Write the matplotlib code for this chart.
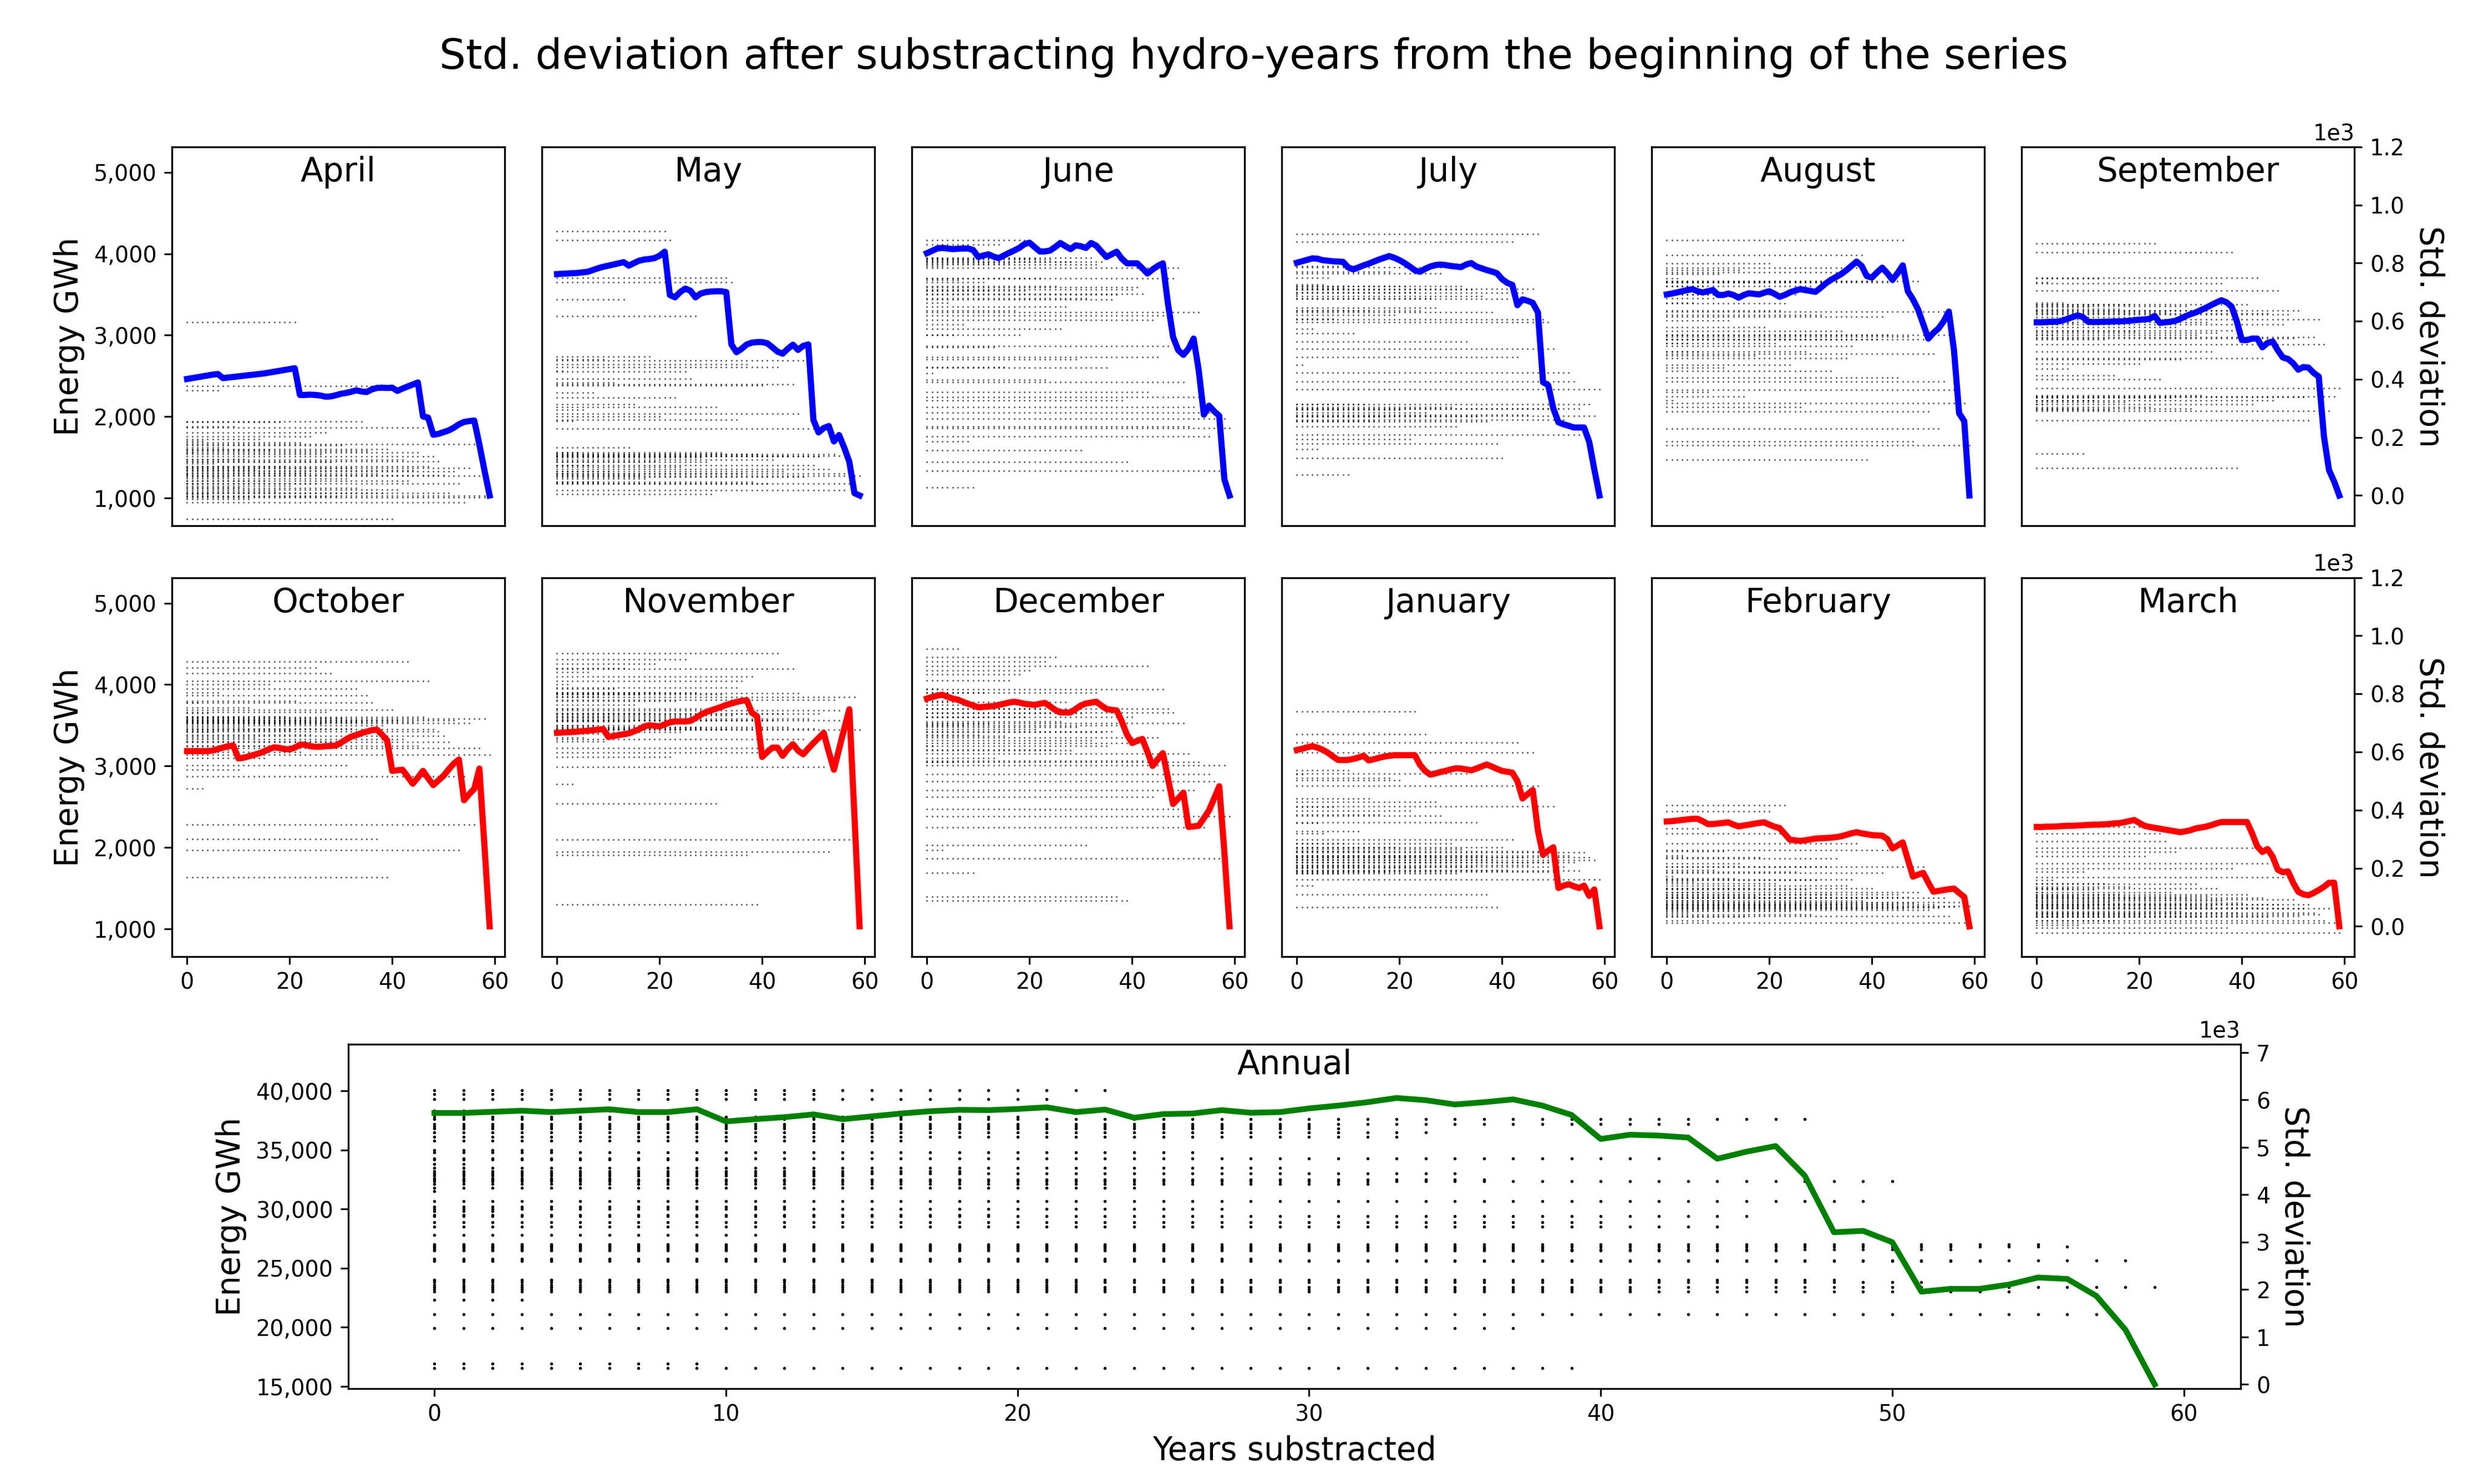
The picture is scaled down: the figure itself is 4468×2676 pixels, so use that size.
import numpy as np
import matplotlib
matplotlib.use('Agg')
import matplotlib.pyplot as plt
from matplotlib.ticker import StrMethodFormatter

# years substracted from the start of the series (x axis)
years = list(range(60))

# monthly energy per hydro-year (GWh), in series order
april_vals = [1290, 1560, 1180, 1700, 1050, 1420, 2323, 1620, 1260, 1880, 1130, 1480, 990, 1350, 1720,
              1210, 1590, 1080, 1930, 1390, 1150, 3157, 1680, 1310, 1753, 1176, 1540, 1801, 1440, 1020,
              1650, 1240, 1370, 1120, 1940, 1580, 2375, 1300, 1060, 1603, 742, 1100, 1470, 1210, 1340,
              1560, 1864, 1390, 1510, 1447, 1280, 1060, 1326, 1180, 943, 1370, 1660, 1270, 1030, 1010]
may_vals = [1480, 2560, 1300, 1950, 1560, 2080, 1400, 2296, 1200, 2700, 1330, 2420, 1520, 3438, 1620,
            2150, 1280, 1239, 2734, 1450, 2000, 4273, 4164, 2234, 1380, 2550, 2468, 3232, 1500, 1443,
            1051, 2115, 1560, 3701, 3648, 1959, 1300, 2640, 1200, 1540, 2380, 1176, 1470, 2609, 1330,
            1520, 2396, 2037, 1260, 2687, 1400, 1510, 1849, 1355, 1540, 1520, 1098, 1300, 1180, 1270]
june_vals = [3900, 2531, 3950, 3850, 3400, 3000, 3679, 3132, 1693, 1130, 3920, 3650, 3550, 2850, 4110,
             2609, 3880, 3300, 3000, 3550, 4170, 3940, 3700, 2450, 3930, 3600, 3075, 3350, 3900, 2700,
             1583, 3450, 3950, 3870, 3900, 2600, 3438, 3500, 2200, 1443, 3560, 3591, 3507, 2300, 3188,
             2731, 3240, 2866, 3700, 3826, 2422, 1880, 2115, 3282, 2240, 1755, 2050, 1333, 1974, 1858]
july_vals = [3500, 2637, 3900, 3075, 1599, 3620, 3701, 3200, 2100, 3580, 1286, 3022, 3850, 2150, 3300,
             1950, 3560, 2000, 3780, 3250, 2080, 3600, 1720, 3530, 3300, 2050, 3450, 3335, 3757, 3835,
             2120, 1880, 3600, 2919, 3560, 2000, 3480, 1940, 3282, 1668, 1489, 3444, 4148, 2731, 3520,
             2020, 3570, 4242, 3194, 3157, 2834, 2099, 1959, 2537, 2428, 2100, 1780, 2150, 2006, 2334]
august_vals = [3500, 2200, 3700, 3000, 2900, 3400, 2800, 3600, 2300, 3450, 3750, 2600, 3179, 2950, 3800,
               2250, 3500, 2750, 3650, 3100, 3882, 2900, 3300, 3388, 2637, 3500, 2115, 2800, 3600, 2950,
               3250, 3650, 2562, 3773, 3053, 2719, 2866, 3826, 3982, 1467, 3660, 2950, 3225, 3000, 3650,
               2475, 4164, 2980, 1693, 3663, 2950, 2062, 2772, 1849, 2428, 3288, 3000, 2325, 2162, 1646]
september_vals = [3300, 2150, 3650, 3000, 2250, 3400, 2587, 3150, 2100, 1544, 3350, 2200, 3700, 2950, 2080,
                  2507, 3320, 2180, 3380, 3050, 2650, 3220, 2120, 4123, 2455, 3280, 2230, 3100, 2700, 3360,
                  2100, 3000, 2260, 3160, 2800, 3028, 3636, 3300, 4018, 1371, 3060, 3376, 2150, 3706, 2715,
                  3270, 2200, 3549, 3132, 3254, 2960, 3300, 2240, 1951, 2976, 3191, 2889, 2072, 2246, 2350]
october_vals = [3560, 3300, 3780, 2725, 3650, 3420, 3900, 3540, 3200, 3600, 2954, 3480, 3720, 3350, 3570,
                3100, 4000, 3530, 3250, 3610, 3440, 3800, 3170, 3560, 3380, 4205, 3520, 3660, 4142, 3300,
                3590, 3007, 3460, 3948, 3540, 3867, 3776, 2100, 3500, 1630, 3689, 3560, 3330, 4283, 3540,
                3250, 3600, 4042, 3450, 3423, 3370, 3298, 3560, 1968, 2875, 3526, 2281, 3219, 3579, 3141]
november_vals = [3900, 3450, 4000, 2775, 3700, 3350, 4150, 3500, 3850, 3300, 3600, 3950, 3400, 4200, 3550,
                 3751, 3880, 3450, 3650, 4252, 3900, 3500, 3110, 3800, 3420, 4308, 3600, 3900, 3470, 3700,
                 3560, 2537, 3880, 3450, 3620, 3964, 4042, 1905, 4095, 1296, 3163, 3219, 3560, 4383, 3640,
                 3480, 4195, 3892, 3329, 3579, 3460, 3640, 2985, 1943, 3814, 3682, 3560, 2099, 3845, 3445]
december_vals = [3700, 3250, 3950, 1968, 3600, 3050, 4439, 3500, 3800, 1687, 3380, 3900, 3520, 3100, 3750,
                 3370, 4048, 3600, 4127, 3601, 4173, 3450, 3700, 4283, 3200, 4339, 3550, 3783, 3194, 3480,
                 3650, 2025, 3313, 3900, 3420, 3250, 3423, 1396, 3500, 1349, 3600, 3280, 3063, 4227, 2619,
                 3350, 3945, 3704, 3657, 2469, 3526, 3150, 2700, 3050, 2243, 2900, 2813, 1865, 3007, 2381]
january_vals = [1900, 2900, 1750, 1530, 2300, 2172, 1850, 2500, 1680, 2050, 2950, 1820, 2200, 1780, 2600,
                1950, 2400, 1700, 2850, 2000, 2828, 1880, 2450, 3667, 1750, 3392, 1900, 2562, 2390, 1820,
                2050, 1680, 1980, 2907, 1760, 2306, 1900, 1421, 1850, 1265, 2000, 1720, 2093, 3288, 1880,
                1780, 3163, 2756, 1950, 1820, 2506, 1700, 1765, 1900, 1820, 1712, 1937, 1880, 1843, 1609]
february_vals = [1500, 1650, 1300, 1900, 1200, 1580, 2234, 1450, 1100, 1720, 1350, 1950, 1250, 1620, 1800,
                 1150, 1500, 1400, 1880, 1300, 2444, 1560, 2172, 2516, 1220, 1700, 1380, 1480, 1180, 1600,
                 1290, 1760, 1420, 1868, 1300, 1530, 1608, 2046, 1350, 1250, 1500, 1380, 1687, 1970, 1300,
                 1420, 1250, 1390, 1320, 1452, 1765, 1233, 1300, 1260, 1380, 1155, 1270, 1327, 1077, 1280]
march_vals = [1350, 1450, 1250, 1600, 1300, 1150, 1500, 1400, 1050, 1700, 1280, 1480, 1200, 1560, 1330,
              1100, 1420, 1260, 1520, 1380, 1180, 1890, 1300, 2250, 2172, 2078, 1450, 1943, 1220, 1380,
              1300, 1550, 1150, 1400, 1280, 1499, 1350, 1014, 1743, 1200, 1320, 1420, 1993, 1260, 1380,
              1150, 1806, 1300, 1250, 1630, 1358, 1155, 1250, 1300, 1200, 1180, 1100, 1249, 1077, 952]
annual_vals = [31500, 33800, 29800, 22300, 35000, 26800, 32600, 38300, 27000, 16900, 34200, 27800, 30200, 39700,
               32800, 24000, 35800, 26600, 33200, 29500, 37800, 39300, 23600, 40050, 31800, 26900, 34800, 30000,
               25800, 33500, 37000, 36800, 32100, 36100, 36500, 33000, 32500, 19900, 26700, 16560, 28900, 23200,
               34300, 37200, 28500, 29400, 26500, 37600, 24000, 30670, 32340, 23800, 26600, 25600, 23000, 27000,
               26840, 21100, 25650, 23400]

# std. deviation of the remaining years after substracting x years
april_std = [401, 404, 407, 410, 413, 416, 418, 404, 406, 408, 410, 412, 414, 416, 418, 420, 423, 426, 429, 432,
             435, 438, 346, 346, 347, 346, 344, 340, 341, 345, 350, 353, 357, 362, 358, 356, 365, 370, 371, 370,
             371, 360, 368, 375, 382, 389, 272, 268, 209, 212, 218, 224, 233, 245, 253, 256, 258, 175, 85, 0]
may_std = [762, 763, 764, 765, 766, 768, 770, 776, 782, 787, 791, 795, 799, 803, 791, 800, 808, 812, 814, 817,
           825, 839, 690, 682, 700, 712, 705, 682, 695, 700, 702, 703, 703, 700, 520, 493, 505, 520, 526, 528,
           528, 524, 510, 495, 488, 505, 519, 501, 515, 520, 260, 217, 232, 239, 186, 208, 165, 116, 8, 0]
june_std = [834, 842, 850, 852, 850, 848, 849, 850, 850, 845, 821, 826, 830, 822, 817, 826, 835, 843, 852, 865,
            870, 855, 840, 840, 843, 855, 869, 858, 848, 861, 858, 852, 869, 860, 840, 821, 830, 839, 815, 799,
            799, 799, 782, 764, 778, 790, 799, 660, 545, 500, 484, 505, 540, 430, 278, 309, 290, 274, 55, 0]
july_std = [801, 806, 811, 816, 815, 810, 808, 806, 805, 804, 785, 778, 785, 792, 798, 805, 812, 818, 824, 818,
            810, 800, 788, 775, 770, 780, 788, 793, 795, 793, 790, 788, 786, 795, 800, 788, 782, 776, 771, 765,
            745, 732, 725, 655, 675, 670, 663, 630, 390, 380, 300, 252, 245, 240, 234, 234, 234, 185, 90, 0]
august_std = [692, 695, 699, 703, 707, 710, 703, 699, 703, 707, 690, 690, 695, 690, 681, 690, 696, 694, 692, 698,
              703, 694, 684, 690, 699, 705, 710, 707, 704, 701, 715, 730, 742, 752, 762, 775, 790, 805, 790, 755,
              750, 768, 784, 765, 742, 765, 792, 703, 675, 640, 590, 540, 560, 575, 600, 633, 500, 283, 256, 0]
september_std = [596, 596, 597, 598, 598, 602, 608, 614, 620, 614, 598, 597, 597, 598, 598, 599, 599, 600, 601,
                 603, 605, 606, 608, 618, 594, 596, 598, 601, 608, 617, 624, 630, 638, 646, 655, 664, 672, 665,
                 650, 600, 535, 535, 540, 540, 510, 525, 530, 500, 475, 470, 455, 433, 442, 440, 422, 409, 204,
                 87, 48, 0]
october_std = [603, 603, 603, 603, 603, 605, 610, 615, 620, 622, 578, 580, 585, 590, 595, 602, 610, 616, 614, 610,
               609, 615, 625, 625, 620, 618, 618, 620, 621, 622, 632, 643, 653, 658, 665, 670, 675, 677, 660, 640,
               535, 537, 539, 515, 491, 512, 535, 510, 486, 502, 518, 540, 560, 574, 434, 455, 473, 543, 272, 0]
november_std = [666, 667, 668, 669, 670, 672, 673, 675, 677, 679, 652, 655, 658, 661, 664, 671, 678, 688, 692, 690,
                688, 695, 702, 705, 705, 705, 707, 716, 728, 737, 743, 749, 755, 762, 767, 772, 776, 778, 735, 723,
                583, 600, 615, 615, 587, 610, 627, 605, 592, 612, 631, 648, 666, 600, 539, 610, 680, 747, 380, 0]
december_std = [784, 789, 794, 797, 790, 784, 780, 773, 766, 760, 754, 755, 757, 758, 762, 766, 770, 773, 770, 766,
                764, 762, 766, 769, 757, 745, 736, 736, 736, 748, 760, 767, 770, 773, 760, 748, 745, 743, 705, 660,
                631, 638, 645, 600, 552, 575, 596, 510, 421, 440, 460, 342, 344, 346, 372, 399, 440, 482, 254, 0]
january_std = [607, 611, 616, 620, 615, 608, 598, 585, 573, 572, 573, 576, 581, 587, 571, 575, 580, 584, 587, 589,
               589, 589, 589, 589, 556, 535, 522, 526, 531, 535, 540, 544, 543, 540, 537, 543, 550, 557, 550, 542,
               535, 532, 529, 500, 440, 455, 469, 330, 246, 260, 272, 132, 140, 145, 138, 132, 140, 105, 127, 0]
february_std = [361, 362, 364, 366, 368, 370, 370, 362, 352, 352, 354, 356, 358, 350, 344, 347, 350, 353, 356, 358,
                350, 343, 338, 318, 298, 296, 294, 296, 299, 302, 303, 304, 305, 307, 310, 315, 320, 324, 320, 317,
                314, 313, 312, 300, 268, 278, 289, 230, 171, 178, 184, 150, 119, 122, 125, 128, 130, 115, 101, 0]
march_std = [342, 342, 343, 343, 344, 345, 346, 346, 347, 348, 349, 350, 350, 351, 352, 354, 355, 358, 362, 366,
             356, 346, 342, 339, 336, 333, 330, 327, 324, 327, 331, 337, 340, 343, 348, 354, 359, 359, 359, 359,
             359, 359, 320, 275, 256, 266, 240, 195, 186, 189, 150, 119, 110, 107, 115, 125, 136, 150, 150, 0]
annual_std = [5726, 5726, 5750, 5774, 5744, 5775, 5804, 5744, 5744, 5804, 5547, 5595, 5637, 5696, 5595, 5654,
              5714, 5762, 5792, 5786, 5810, 5845, 5744, 5798, 5625, 5702, 5714, 5786, 5730, 5744, 5822, 5881,
              5953, 6042, 5995, 5905, 5953, 6012, 5881, 5684, 5177, 5267, 5249, 5207, 4760, 4909, 5028, 4402,
              3209, 3239, 3000, 1956, 2016, 2016, 2106, 2255, 2225, 1867, 1151, 0]

months = ['April', 'May', 'June', 'July', 'August', 'September',
          'October', 'November', 'December', 'January', 'February', 'March']
month_vals = [april_vals, may_vals, june_vals, july_vals, august_vals, september_vals,
              october_vals, november_vals, december_vals, january_vals, february_vals, march_vals]
month_std = [april_std, may_std, june_std, july_std, august_std, september_std,
             october_std, november_std, december_std, january_std, february_std, march_std]


def remaining(vals):
    # every year still left after substracting x years from the start
    xs, ys = [], []
    for x in years:
        xs += [x] * (len(vals) - x)
        ys += vals[x:]
    return xs, ys


fig = plt.figure(figsize=(15.6, 9.3436), dpi=286.42)
fig.text(0.506, 0.9615, 'Std. deviation after substracting hydro-years from the beginning of the series',
         ha='center', va='center', fontsize=19)

comma = StrMethodFormatter('{x:,.0f}')

for i, name in enumerate(months):
    row, col = divmod(i, 6)
    bottom = 0.6457 if row == 0 else 0.3554
    ax = fig.add_axes([0.0694 + col * 0.14928, bottom, 0.1343, 0.2553])
    xs, ys = remaining(month_vals[i])
    ax.plot(xs, ys, linestyle='none', marker='o', ms=0.8, mew=0, color='k', alpha=0.6)
    ax.set_ylim(660, 5313)
    ax.set_yticks([1000, 2000, 3000, 4000, 5000])
    ax.yaxis.set_major_formatter(comma)
    ax.set_xlim(-2.95, 61.95)
    ax.set_xticks([0, 20, 40, 60])
    ax.text(0.5, 0.933, name, transform=ax.transAxes, ha='center', va='center', fontsize=15)

    ax2 = ax.twinx()
    ax2.plot(years, month_std[i], color='blue' if row == 0 else 'red', lw=2.8)
    ax2.set_ylim(-104, 1200)
    ax2.set_yticks([0, 200, 400, 600, 800, 1000, 1200])

    if col == 0:
        ax.set_ylabel('Energy GWh', fontsize=14.5)
    else:
        ax.tick_params(axis='y', left=False, labelleft=False)
    if col == 5:
        ax2.ticklabel_format(axis='y', style='sci', scilimits=(0, 0))
        ax2.set_ylabel('Std. deviation', fontsize=14.5, rotation=270, labelpad=18)
    else:
        ax2.tick_params(axis='y', right=False, labelright=False)
    if row == 0:
        ax.tick_params(axis='x', bottom=False, labelbottom=False)

# whole hydro-year
ax = fig.add_axes([0.1406, 0.0643, 0.7636, 0.232])
xs, ys = remaining(annual_vals)
ax.plot(xs, ys, linestyle='none', marker='o', ms=1.4, mew=0, color='k')
ax.set_ylim(14810, 43940)
ax.set_yticks([15000, 20000, 25000, 30000, 35000, 40000])
ax.yaxis.set_major_formatter(comma)
ax.set_xlim(-2.95, 61.95)
ax.set_xticks([0, 10, 20, 30, 40, 50, 60])
ax.set_ylabel('Energy GWh', fontsize=14.5)
ax.set_xlabel('Years substracted', fontsize=14.5)
ax.text(0.5, 0.94, 'Annual', transform=ax.transAxes, ha='center', va='center', fontsize=15)

ax2 = ax.twinx()
ax2.plot(years, annual_std, color='green', lw=2.6)
ax2.set_ylim(-88, 7175)
ax2.set_yticks(range(0, 8000, 1000))
ax2.ticklabel_format(axis='y', style='sci', scilimits=(0, 0))
ax2.set_ylabel('Std. deviation', fontsize=14.5, rotation=270, labelpad=18)

fig.savefig('out.png', dpi=286.42)
